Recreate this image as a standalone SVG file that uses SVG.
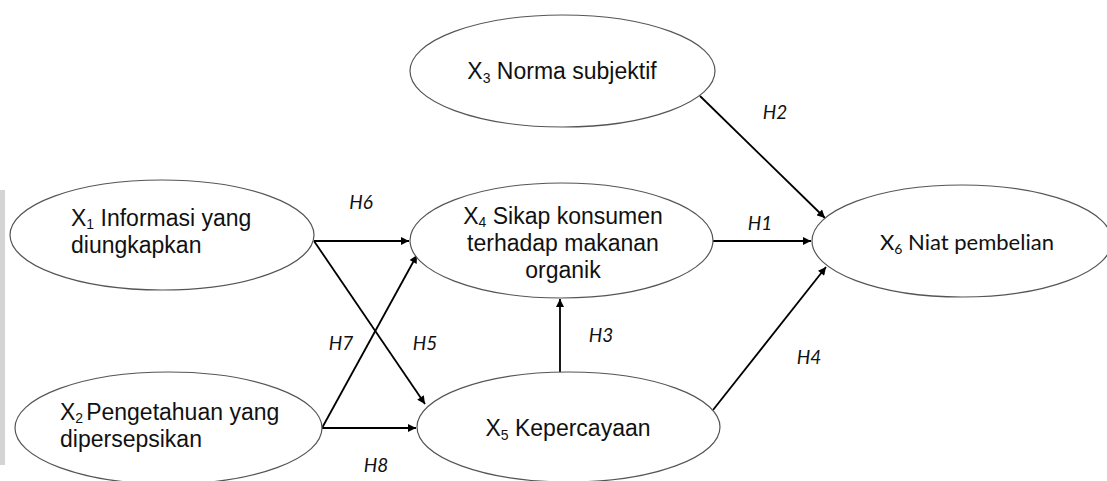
<svg xmlns="http://www.w3.org/2000/svg" width="1107" height="481" viewBox="0 0 1107 481">
<defs>
<marker id="ah" viewBox="0 0 10 10" refX="10" refY="5" markerWidth="9" markerHeight="8" markerUnits="userSpaceOnUse" orient="auto">
<path d="M0,0 L10,5 L0,10 z" fill="#000"/>
</marker>
</defs>
<style>
.node ellipse{fill:#fff;stroke:#555;stroke-width:1.2}
.t{font-family:"Liberation Sans",Arial,sans-serif;font-size:23px;fill:#111}
.tc{font-family:Lato,"Open Sans",sans-serif;font-size:22px;fill:#111}
.sub{font-size:14px}
.lbl{font-family:Lato,"Open Sans",sans-serif;font-style:italic;font-size:19px;fill:#111;text-anchor:middle}
.edges line{stroke:#000;stroke-width:1.8;marker-end:url(#ah)}
</style>
<rect width="1107" height="481" fill="#fff"/>
<rect x="0" y="190" width="5" height="275" fill="#d4d4d4"/>
<g class="edges">
<line x1="314" y1="241" x2="409" y2="241"/>
<line x1="314" y1="241" x2="425" y2="404"/>
<line x1="322" y1="428" x2="417" y2="255"/>
<line x1="322" y1="428" x2="416" y2="428"/>
<line x1="560" y1="372" x2="560" y2="299"/>
<line x1="713" y1="241" x2="811" y2="241"/>
<line x1="700" y1="96" x2="825" y2="218"/>
<line x1="713" y1="410" x2="826" y2="267"/>
</g>
<g id="n3" class="node"><ellipse cx="562.5" cy="71" rx="152.5" ry="56"/>
<text class="t" x="562" y="79" text-anchor="middle">X<tspan class="sub" dy="4">3</tspan><tspan dy="-4"> Norma subjektif</tspan></text></g>
<g id="n1" class="node"><ellipse cx="162" cy="235" rx="152" ry="55"/>
<text class="t" x="71" y="226">X<tspan class="sub" dy="3">1</tspan><tspan dy="-3"> Informasi yang</tspan></text>
<text class="t" x="71" y="253">diungkapkan</text></g>
<g id="n4" class="node"><ellipse cx="561.5" cy="240.5" rx="151.5" ry="57.5"/>
<text class="t" x="563" y="224" text-anchor="middle">X<tspan class="sub" dy="3">4</tspan><tspan dy="-3"> Sikap konsumen</tspan></text>
<text class="t" x="563" y="251" text-anchor="middle">terhadap makanan</text>
<text class="t" x="563" y="278" text-anchor="middle">organik</text></g>
<g id="n2" class="node"><ellipse cx="168.5" cy="428" rx="153.5" ry="56"/>
<text class="t" x="60" y="420">X<tspan class="sub" dy="3">2</tspan><tspan dy="-3" dx="3">Pengetahuan yang</tspan></text>
<text class="t" x="60" y="447">dipersepsikan</text></g>
<g id="n5" class="node"><ellipse cx="568.5" cy="427" rx="151.5" ry="55"/>
<text class="t" x="568" y="436" text-anchor="middle">X<tspan class="sub" dy="4">5</tspan><tspan dy="-4"> Kepercayaan</tspan></text></g>
<g id="n6" class="node"><ellipse cx="962" cy="241" rx="150" ry="56"/>
<text class="tc" x="880" y="250">X<tspan class="sub" dy="4">6</tspan><tspan dy="-4"> Niat pembelian</tspan></text></g>
<g id="labels">
<text class="lbl" x="775" y="119">H2</text>
<text class="lbl" x="361" y="209">H6</text>
<text class="lbl" x="760" y="230">H1</text>
<text class="lbl" x="341" y="350">H7</text>
<text class="lbl" x="425" y="350">H5</text>
<text class="lbl" x="601" y="342">H3</text>
<text class="lbl" x="809" y="364">H4</text>
<text class="lbl" x="376" y="472">H8</text>
</g>
</svg>
